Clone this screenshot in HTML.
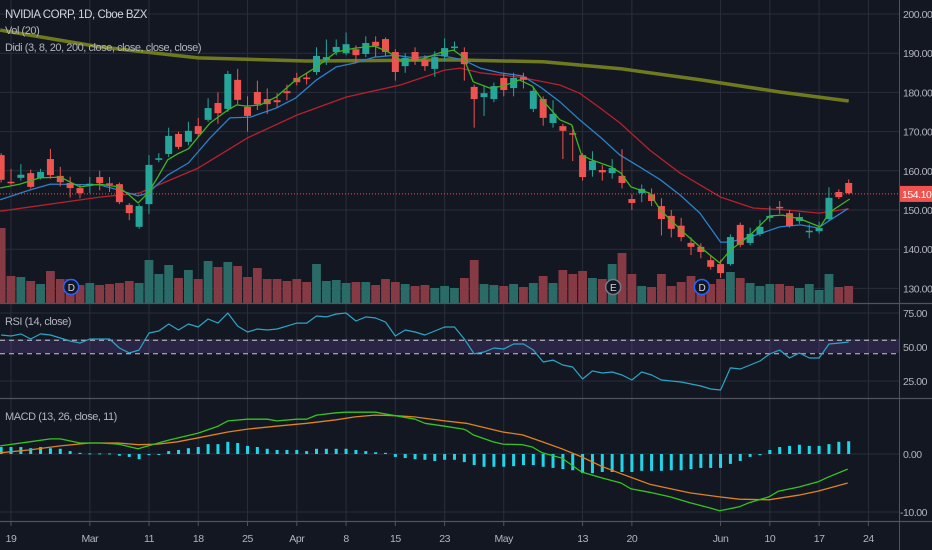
<!DOCTYPE html>
<html><head><meta charset="utf-8"><style>
html,body{margin:0;padding:0;background:#131722;}
svg{display:block;font-family:"Liberation Sans Narrow","Liberation Sans",sans-serif;}
text{letter-spacing:-0.45px;}
</style></head><body>
<svg id="c" width="932" height="550" viewBox="0 0 932 550" xmlns="http://www.w3.org/2000/svg">
<rect x="0" y="0" width="932" height="550" fill="#131722"/>
<g id="grid"></g>
<rect x="0" y="339" width="899" height="14" fill="#7e57c2" fill-opacity="0.22"/>
<g id="vol"></g>
<g id="ma"></g>
<g id="candles"></g>
<g id="rsi"></g>
<g id="macd"></g>
<g id="axes"></g>
<text x="5" y="18" fill="#d1d4dc" font-size="11.5">NVIDIA CORP, 1D, Cboe BZX</text>
<text x="5" y="34" fill="#b2b5be" font-size="11">Vol (20)</text>
<text x="5" y="51" fill="#b2b5be" font-size="11">Didi (3, 8, 20, 200, close, close, close, close)</text>
<text x="5" y="325" fill="#b2b5be" font-size="11">RSI (14, close)</text>
<text x="5" y="420" fill="#b2b5be" font-size="11">MACD (13, 26, close, 11)</text>
</svg>
<script>
const opens=[164,157.2,158.2,159.4,158.2,163,158.7,156.9,155.6,156.4,158.4,156.8,156.6,151.3,145.7,151.5,162.8,164.3,169.4,167.4,171.4,173,177.3,175.8,183.2,176.3,180.1,178.3,178,180.3,183.7,183.8,185.2,188.3,190.3,190,191,189.8,192.9,193.6,190.3,186.7,190.3,188.3,186,189.3,191.3,190.3,181.4,178.8,178.3,183.7,181.1,184,175.8,178.3,172.2,171.4,169.6,164,160.2,160.2,159.4,158.7,152.8,154.3,154,151,148.5,146,141.6,140.6,137.2,136.2,136.2,146.2,141.6,143.9,148,150.8,149.2,147.2,144.6,144.6,147.7,154.6,156.9];
const closes=[157.7,156.9,159,155.9,159.7,158.9,157.1,155.6,154.3,156.7,156.9,156.5,152,149.2,151,161.5,163.2,168.9,166.1,170.2,169.4,176,174.7,184.7,178.1,174,177,177,177.5,179.8,182.6,183.4,189.3,189,191.6,192.3,189.5,192.6,191.8,190.3,185.2,188.8,188,186.7,189,191.3,191.7,187.2,178.3,179.8,181.6,180.6,183.7,183.2,180.4,173.5,174.5,170.2,169.2,158.4,162.5,159.6,160.7,156.9,151.8,155.4,152.3,147.7,145.2,143.1,140.6,139.3,135.5,133.9,143.1,141.1,143.9,145.7,148.5,150.6,145.9,148.2,144.7,145.4,153.1,153.3,154.3];
const highs=[164.5,160.5,161.7,160.3,160.5,165.6,161,158.5,156.5,158.4,160,158.4,157,151.8,151.5,164,164.5,171,170,172.5,173.5,178.5,180,185.5,186,179,183,181,179.8,182,185,185,191.5,193.5,193.5,195.3,192,194.3,194.3,194,191,190,191.5,189.5,190.5,193.8,193,191.5,182,181.5,182.5,185,185,185,181.5,179,178,172,171.5,164.5,165,161.5,163,165.5,154,156.5,155.5,153,150,148,143,141.5,138.5,137.3,143.8,146.8,145.5,147.5,151,152.3,150,149.3,146.3,147,155.8,155.3,157.8];
const lows=[157,156.4,157.5,155.5,157.8,158,156,153.2,153,154.3,155,154.6,151.5,147.4,145.2,149,162.2,163.5,165.5,166.5,168.6,172.5,172,175,177,170,175.5,174.5,176,178,181.8,182,184.5,187,189.5,189.5,187.5,189,189,189.2,183,185,187,185.5,184,188,190.5,183,171,174,177.5,179,179,181,175,171.5,171,163,162.5,157.5,158.5,157.5,158,155.5,150,152,151,143.5,143,142,138.5,137.7,134.8,132.7,135.8,140.5,141,143.3,147,149,145.5,146.5,142.8,144,147.2,152.8,154];
const volumes=[75,27,26,22,19,32,24,24,18,20,18,19,20,22,20,43,29,38,25,33,24,42,36,41,37,26,35,24,24,22,24,21,39,22,23,20,21,21,18,24,21,19,17,18,15,17,15,25,43,19,18,17,19,16,20,27,20,33,29,32,25,24,39,50,29,17,16,29,17,21,27,20,19,24,31,25,20,17,19,19,17,15,19,13,29,16,17];
const rsiVals=[58.8,58.1,59.6,55.9,59.6,58.8,56.6,54.4,52.9,55.9,55.9,55.9,49.3,45.6,47.8,60.3,61.8,66.9,62.5,66.9,64.7,70.6,67.6,75,65.4,61,63.2,62.5,63.2,65.4,67.6,67.6,72.8,72.1,74.3,75,69.1,72.1,71.3,68.4,58.1,62.5,61,58.8,61.8,64.7,64.7,55.9,44.9,46.3,49.3,48.5,52.2,52.2,47.8,39,40.4,36.8,35.3,26.5,32.4,30.9,31.6,29.4,25.7,31.6,29.4,25.7,25,24.3,22.8,21.3,19.1,18.4,34.6,33.8,36.8,39.7,44.9,47.8,41.9,45.6,41.9,41.9,52.2,52.9,53.7];
const histVals=[1.2,1.2,1.2,1.0,1.2,1.0,0.9,0.5,0.2,0.1,0.1,0.1,-0.3,-0.5,-0.9,-0.2,-0.1,0.5,0.7,1.0,1.2,1.7,1.7,2.1,1.9,1.4,1.2,0.9,0.7,0.7,0.7,0.5,0.9,0.9,0.9,0.9,0.7,0.5,0.3,0.2,-0.5,-0.7,-0.9,-1.0,-1.2,-1.0,-1.0,-1.4,-1.9,-2.2,-2.2,-2.2,-2.1,-1.9,-1.9,-2.2,-2.4,-2.6,-2.8,-3.3,-3.3,-3.1,-3.1,-3.1,-3.1,-2.9,-2.9,-2.9,-2.8,-2.8,-2.6,-2.4,-2.4,-2.4,-1.7,-1.2,-0.5,-0.2,0.7,1.2,1.4,1.6,1.4,1.4,1.7,2.1,2.2];
const ma200Idx=[-1.1,9,19,30,45,54,62,70,78,85];
const ma200Val=[195.9,191.6,188.8,188,188.3,187.8,186,183.2,180.1,177.8];
const ma20Idx=[-1.1,9,13,19,24,29,34,39.5,44,45.6,47.6,51.6,55.7,57.7,59.8,61.8,64.8,67.9,72,75.3,78.7,82,85];
const ma20Val=[149.7,153.3,154.3,160.7,168.4,174.2,178.8,181.9,185.7,186.2,185,183.9,181.9,179.8,176,172.2,165.3,159.4,153.3,150.5,150,149.2,150.3];
const ma8Idx=[-1.1,1.9,4,9,10.9,12.9,13.9,15.9,18,20.2,22.2,24.3,26.9,28.9,31,33,34.9,36.9,39,40.9,43.5,45.9,47.6,49.6,51.9,53.7,55.7,57.7,59.8,61.8,63.8,65.9,67.9,69.9,72,72.9,75,78,80.1,81.9,83.1,84.9];
const ma8Val=[152.6,155.1,156.6,156.4,155.1,153.6,154.3,158.9,162,168.4,173.5,173.7,176,178.6,183.2,186.5,187.5,189,189.5,188.8,189.5,188.3,186.2,185,184.2,181.4,177.6,173,168.6,164,161,157.7,153.8,149.2,141.8,141.8,143.1,145.7,146.2,145.4,147.4,150.3];
const ma3Idx=[-1.1,0.9,2.9,5,7,9,10.9,12,12.9,13.9,14.9,15.9,16.9,18,19,20.2,22,22.9,23.9,25.3,26.9,28.9,31,33,34.9,36.9,38.3,39.5,41.5,43.5,44.9,45.9,46.9,48.6,49.9,51.6,52.9,53.9,55.7,56.9,57.9,58.9,60.9,61.9,62.9,64.8,65.9,68.2,69.9,71.9,73,74,75,77,78.3,80.1,82.1,83.1,85.1];
const ma3Val=[155.6,156.6,158.2,158.4,155.9,156.6,155.9,153.8,151.8,154.3,158.4,162.8,164.3,165.6,168.6,172.2,175.5,176.8,176.5,176.8,178.8,183.2,186.5,190.3,191.3,191.8,190.3,188.3,188.3,190.1,190.8,189,182.7,181.1,181.6,183.2,181.6,178.1,173,171.7,164,162.8,161,159.4,155.9,154.3,150,144.4,140.6,136.5,139.8,141.6,143.6,148.5,148.7,147.7,145.7,149.5,152.8];
const macdIdx=[-1.1,1.9,4,5,7,9,10.9,12.9,13.9,16,19,21,22,24,26,27,29,30,31,33,34,37,39,41,42,44,45.9,46.2,46.9,48.9,49.9,51.9,52.9,53.9,55.9,57.9,59.9,61.9,62.9,64.8,66.9,68.9,70.9,71.9,73.9,74.9,76.9,77.9,79.9,81.9,82.9,84.9];
const macdVal=[1.4,2.1,2.6,2.6,1.9,1.9,1.7,0.9,1.4,2.4,3.6,4.8,5.7,6.0,6.0,5.7,6.0,6.0,6.7,7.1,7.2,7.2,6.6,6.0,5.3,4.8,4.3,4.1,3.3,2.1,1.7,1.6,1.2,0.2,-0.7,-3.1,-4.1,-5.0,-6.0,-6.6,-7.4,-8.4,-9.3,-9.8,-9.1,-8.4,-7.4,-6.4,-5.7,-4.8,-4.0,-2.6];
const signalIdx=[-1.1,1.9,5,8,10.9,12.9,14.9,16.9,19,22,24,26.9,30,33,34.9,36.9,39,40.9,44,46.2,49.9,51.9,53.9,55.9,57.9,59.9,61.9,64.8,68.9,71.9,73.9,76.9,79.9,81.9,84.9];
const signalVal=[0.2,0.7,1.4,1.9,1.9,1.6,1.7,2.1,2.8,3.8,4.3,4.8,5.3,5.9,6.4,6.7,6.6,6.4,5.7,5.3,3.8,3.3,2.1,0.9,-0.5,-2.1,-3.4,-5.2,-6.7,-7.4,-7.8,-7.9,-7.1,-6.4,-5.0];
const priceTicks=[200,190,180,170,160,150,140,130];
const rsiTicks=[75,50,25];
const macdTicks=[0,-10];
const dateLabels=["19","Mar","11","18","25","Apr","8","15","23","May","13","20","Jun","10","17","24"];
const dateIdx=[0,8,14,19,24,29,34,39,44,50,58,63,72,77,82,87];
const lastPrice=154.10;
const firstIdx=-1;

const NS="http://www.w3.org/2000/svg";
const X=i=>11+i*9.855;
const PY=p=>14+(200-p)*3.92;
const VY=v=>303-v;
const RY=v=>347-(v-50)*1.36;
const MY=v=>454-v*5.8;
function mk(parent,tag,attrs){const e=document.createElementNS(NS,tag);for(const k in attrs)e.setAttribute(k,attrs[k]);document.getElementById(parent).appendChild(e);return e;}
const UP="#26a69a",DN="#ef5350";

priceTicks.forEach(p=>{const e=mk('grid','line',{x1:0,x2:899,y1:PY(p),y2:PY(p),stroke:'#2a2e39','stroke-width':1});

});
rsiTicks.filter(v=>v!==50).forEach(v=>{const e=mk('grid','line',{x1:0,x2:899,y1:RY(v),y2:RY(v),stroke:'#2a2e39','stroke-width':1});

});
macdTicks.forEach(v=>{const e=mk('grid','line',{x1:0,x2:899,y1:MY(v),y2:MY(v),stroke:'#2a2e39','stroke-width':1});

});
dateIdx.forEach(i=>{const e=mk('grid','line',{x1:X(i),x2:X(i),y1:0,y2:521,stroke:'#2a2e39','stroke-width':1});

});

volumes.forEach((v,k)=>{const i=k+firstIdx;const up=closes[k]>=opens[k];
const e=mk('vol','rect',{x:X(i)-4.4,y:VY(v),width:8.8,height:v,fill:up?'#2b6b67':'#853a44'});

});

[[6,'D','#2962ff'],[61,'E','#787b86'],[70,'D','#2962ff']].forEach(m=>{
const c=mk('vol','circle',{cx:X(m[0])+1,cy:287,r:7.5,fill:'#131722',stroke:m[2],'stroke-width':1.5});


const t=mk('vol','text',{x:X(m[0])+1,y:291,'text-anchor':'middle','font-size':10,fill:'#d1d4dc'});t.textContent=m[1];

});

function line(parent,idx,vals,yf,color,w,name,op){const d=idx.map((i,k)=>(k?'L':'M')+X(i).toFixed(1)+','+yf(vals[k]).toFixed(1)).join('');
const e=mk(parent,'path',{d:d,fill:'none',stroke:color,'stroke-width':w,'stroke-linejoin':'round','stroke-opacity':op||1});

}
line('ma',ma200Idx,ma200Val,PY,'#6f7a1e',3.5,'ma200-line');
line('ma',ma20Idx,ma20Val,PY,'#b7212d',1.3,'ma20-line');
line('ma',ma8Idx,ma8Val,PY,'#2a82c8',1.3,'ma8-line');

opens.forEach((o,k)=>{const i=k+firstIdx;const c=closes[k];const up=c>=o;const col=up?UP:DN;
const w=mk('candles','line',{x1:X(i),x2:X(i),y1:PY(highs[k]),y2:PY(lows[k]),stroke:col,'stroke-width':1});


const top=PY(Math.max(o,c)),h=Math.max(1.5,Math.abs(PY(o)-PY(c)));
const b=mk('candles','rect',{x:X(i)-3.5,y:top,width:7,height:h,fill:col});

});
line('candles',ma3Idx,ma3Val,PY,'#3fb61f',1.3,'ma3-line');

const lp=mk('candles','line',{x1:0,x2:899,y1:PY(lastPrice),y2:PY(lastPrice),stroke:'#ef5350','stroke-width':1,'stroke-dasharray':'1,2'});



[55,45].forEach(v=>{const e=mk('rsi','line',{x1:0,x2:899,y1:RY(v),y2:RY(v),stroke:'#c8cad0','stroke-width':1,'stroke-dasharray':'5,4'});

});
line('rsi',rsiVals.map((v,k)=>k+firstIdx),rsiVals,RY,'#2ba6c6',1.2,'rsi-line');

histVals.forEach((v,k)=>{const i=k+firstIdx;const y0=MY(0),y1=MY(v);
const e=mk('macd','rect',{x:X(i)-1.5,y:Math.min(y0,y1),width:3,height:Math.max(1,Math.abs(y1-y0)),fill:'#1fd6e8'});

});
line('macd',signalIdx,signalVal,MY,'#e0831f',1.3,'macd-signal-line');
line('macd',macdIdx,macdVal,MY,'#35c41f',1.3,'macd-line');

[[303.5,'price-pane-separator'],[398.5,'rsi-pane-separator'],[521.5,'time-axis-separator']].forEach(s=>{
const e=mk('axes','line',{x1:0,x2:932,y1:s[0],y2:s[0],stroke:'#50535e','stroke-width':1.2});

});
const ax=mk('axes','line',{x1:899.5,x2:899.5,y1:0,y2:550,stroke:'#50535e','stroke-width':1});


function lab(x,y,txt,name,anchor){const t=mk('axes','text',{x:x,y:y,'font-size':10.5,fill:'#b2b5be','text-anchor':anchor||'start'});t.textContent=txt;

}
priceTicks.forEach(p=>lab(903,PY(p)+4,p.toFixed(2),'price-tick-label'));
rsiTicks.forEach(v=>lab(903,RY(v)+4,v.toFixed(2),'rsi-tick-label'));
macdTicks.forEach(v=>lab(v<0?900:903,MY(v)+4,v.toFixed(2),'macd-tick-label'));
dateLabels.forEach((d,k)=>lab(X(dateIdx[k]),542,d,'date-tick-label','middle'));
dateIdx.forEach(i=>{const e=mk('axes','line',{x1:X(i),x2:X(i),y1:522,y2:526,stroke:'#50535e'});

});
const pb=mk('axes','rect',{x:900,y:PY(lastPrice)-8,width:32,height:16,fill:'#ef5350'});


const pt=mk('axes','text',{x:902,y:PY(lastPrice)+4,'font-size':10.5,fill:'#ffffff'});pt.textContent=lastPrice.toFixed(2);


</script>
</body></html>
